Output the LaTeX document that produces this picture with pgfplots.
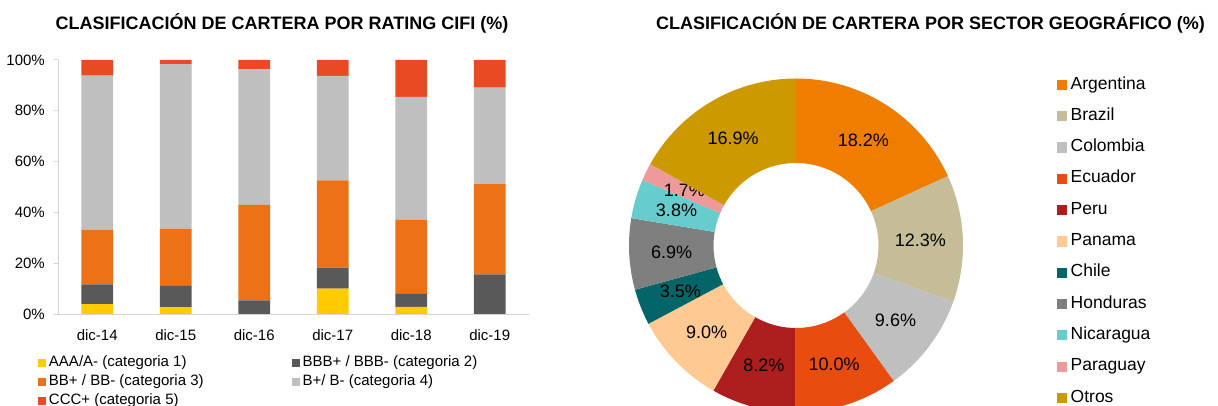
\documentclass[border=0pt]{standalone}
\usepackage{pgfplots}
\usepackage{pgfplotstable}
\pgfplotsset{compat=1.18}
\usepackage{fontspec}
\setmainfont{Liberation Sans}

\definecolor{cOne}{HTML}{FFCC00}
\definecolor{cTwo}{HTML}{595959}
\definecolor{cThree}{HTML}{EC7117}
\definecolor{cFour}{HTML}{BFBFBF}
\definecolor{cFive}{HTML}{E84B24}
\definecolor{axisgray}{HTML}{D4D4D4}

\definecolor{cArg}{HTML}{EF7D00}
\definecolor{cBra}{HTML}{C4BD97}
\definecolor{cCol}{HTML}{BFBFBF}
\definecolor{cEcu}{HTML}{E84C0E}
\definecolor{cPer}{HTML}{AD1F1F}
\definecolor{cPan}{HTML}{FFC993}
\definecolor{cChi}{HTML}{036567}
\definecolor{cHon}{HTML}{7F7F7F}
\definecolor{cNic}{HTML}{66CDCC}
\definecolor{cPar}{HTML}{EE9A9A}
\definecolor{cOtr}{HTML}{CC9900}

\newcommand\titlefont{\fontsize{18bp}{21bp}\selectfont\bfseries}
\newcommand\tickfont{\fontsize{15bp}{18bp}\selectfont}
\newcommand\legfontA{\fontsize{15bp}{18bp}\selectfont}
\newcommand\donutlabelfont{\fontsize{18bp}{21bp}\selectfont}
\newcommand\donutlegfont{\fontsize{17.5bp}{21bp}\selectfont}

% Rating CIFI shares (%), columns: categoria 1..5
\pgfplotstableread{
x c1 c2 c3 c4 c5
0 3.9 7.8 21.5 60.6 6.2
1 2.6 8.7 22.3 64.8 1.6
2 0.0 5.4 37.6 53.3 3.7
3 10.0 8.3 34.3 41.1 6.3
4 2.8 5.1 29.2 48.4 14.5
5 0.0 15.6 35.5 38.0 10.9
}\ratingdata

\begin{document}
\begin{tikzpicture}
\useasboundingbox (0bp,0bp) rectangle (1218bp,406bp);
\node[font=\titlefont, anchor=base, inner sep=0pt] at (282bp,376bp) {CLASIFICACIÓN DE CARTERA POR RATING CIFI (\%)};
\node[font=\titlefont, anchor=base, inner sep=0pt] at (930.5bp,376bp) {CLASIFICACIÓN DE CARTERA POR SECTOR GEOGRÁFICO (\%)};

\begin{axis}[
  at={(58bp,92bp)}, anchor=south west,
  scale only axis, width=471bp, height=254bp,
  xmin=-0.5, xmax=5.5, ymin=0, ymax=100,
  enlarge x limits=false, enlarge y limits=false,
  ybar stacked, bar width=31.5bp,
  axis x line*=bottom, axis y line*=left,
  axis line style={draw=axisgray, line width=1bp},
  xtick={0,1,2,3,4,5},
  xticklabels={dic-14,dic-15,dic-16,dic-17,dic-18,dic-19},
  x tick style={draw=none},
  ytick={0,20,40,60,80,100},
  yticklabels={0\%,20\%,40\%,60\%,80\%,100\%},
  y tick style={draw=axisgray, line width=1bp},
  tick align=outside, major tick length=4bp,
  tick label style={font=\tickfont},
  yticklabel style={anchor=east, inner sep=0pt, xshift=-9bp},
  xticklabel style={anchor=base, inner sep=0pt, yshift=-22bp},
  legend image code/.code={\fill[#1] (0bp,-4.25bp) rectangle (8.5bp,4.25bp);},
  legend columns=2,
  legend cell align=left,
  legend style={at={(-0.0425,-0.165)}, anchor=north west, draw=none, fill=none,
    inner sep=0pt, outer sep=0pt, font=\legfontA, row sep=5.1bp,
    nodes={inner sep=0pt, text height=10.7bp, text depth=3.2bp},
    /tikz/every odd column/.style={column sep=2.5bp},
    /tikz/every even column/.style={column sep=88bp}},
]
\addplot[fill=cOne, draw=none] table[x=x, y=c1] {\ratingdata};
\addlegendentry{AAA/A- (categoria 1)}
\addplot[fill=cTwo, draw=none] table[x=x, y=c2] {\ratingdata};
\addlegendentry{BBB+ / BBB- (categoria 2)}
\addplot[fill=cThree, draw=none] table[x=x, y=c3] {\ratingdata};
\addlegendentry{BB+ / BB- (categoria 3)}
\addplot[fill=cFour, draw=none] table[x=x, y=c4] {\ratingdata};
\addlegendentry{B+/ B- (categoria 4)}
\addplot[fill=cFive, draw=none] table[x=x, y=c5] {\ratingdata};
\addlegendentry{CCC+ (categoria 5)}
\end{axis}

\xdef\cumA{0}
\begin{axis}[
  at={(796bp,160.5bp)}, anchor=center,
  scale only axis, width=400bp, height=400bp,
  xmin=-200, xmax=200, ymin=-200, ymax=200,
  hide axis, clip=false,
  legend image code/.code={\fill[#1] (0bp,-4.6bp) rectangle (9.3bp,4.6bp);},
  legend cell align=left,
  legend style={at={(1.1525,0.9225)}, anchor=north west, draw=none, fill=none,
    inner sep=0pt, outer sep=0pt, font=\donutlegfont, row sep=15bp,
    nodes={inner sep=0pt, text height=12.5bp, text depth=3.8bp},
    /tikz/every odd column/.style={column sep=4bp}},
]
% Sector shares (%): Argentina, Brazil, Colombia, Ecuador, Peru, Panama, Chile, Honduras, Nicaragua, Paraguay, Otros
\foreach \v/\cc in {18.2/cArg,12.3/cBra,9.6/cCol,10.0/cEcu,8.2/cPer,9.0/cPan,3.5/cChi,6.9/cHon,3.8/cNic,1.7/cPar,16.9/cOtr}{
  \pgfmathsetmacro\aS{90-\cumA/100.1*360}
  \pgfmathsetmacro\aE{90-(\cumA+\v)/100.1*360}
  \pgfmathsetmacro\aM{(\aS+\aE)/2}
  \edef\temp{\noexpand\fill[\cc, shift={(axis cs:0,0)}] (\aS:167bp) arc[start angle=\aS, end angle=\aE, radius=167bp] -- (\aE:82.5bp) arc[start angle=\aE, end angle=\aS, radius=82.5bp] -- cycle;
    \noexpand\node[font=\noexpand\donutlabelfont, shift={(axis cs:0,0)}, inner sep=0pt] at (\aM:124.5bp) {\v\noexpand\%};}
  \temp
  \pgfmathsetmacro\nc{\cumA+\v}
  \xdef\cumA{\nc}
}
\addlegendimage{cArg}\addlegendentry{Argentina}
\addlegendimage{cBra}\addlegendentry{Brazil}
\addlegendimage{cCol}\addlegendentry{Colombia}
\addlegendimage{cEcu}\addlegendentry{Ecuador}
\addlegendimage{cPer}\addlegendentry{Peru}
\addlegendimage{cPan}\addlegendentry{Panama}
\addlegendimage{cChi}\addlegendentry{Chile}
\addlegendimage{cHon}\addlegendentry{Honduras}
\addlegendimage{cNic}\addlegendentry{Nicaragua}
\addlegendimage{cPar}\addlegendentry{Paraguay}
\addlegendimage{cOtr}\addlegendentry{Otros}
\end{axis}
\end{tikzpicture}
\end{document}
